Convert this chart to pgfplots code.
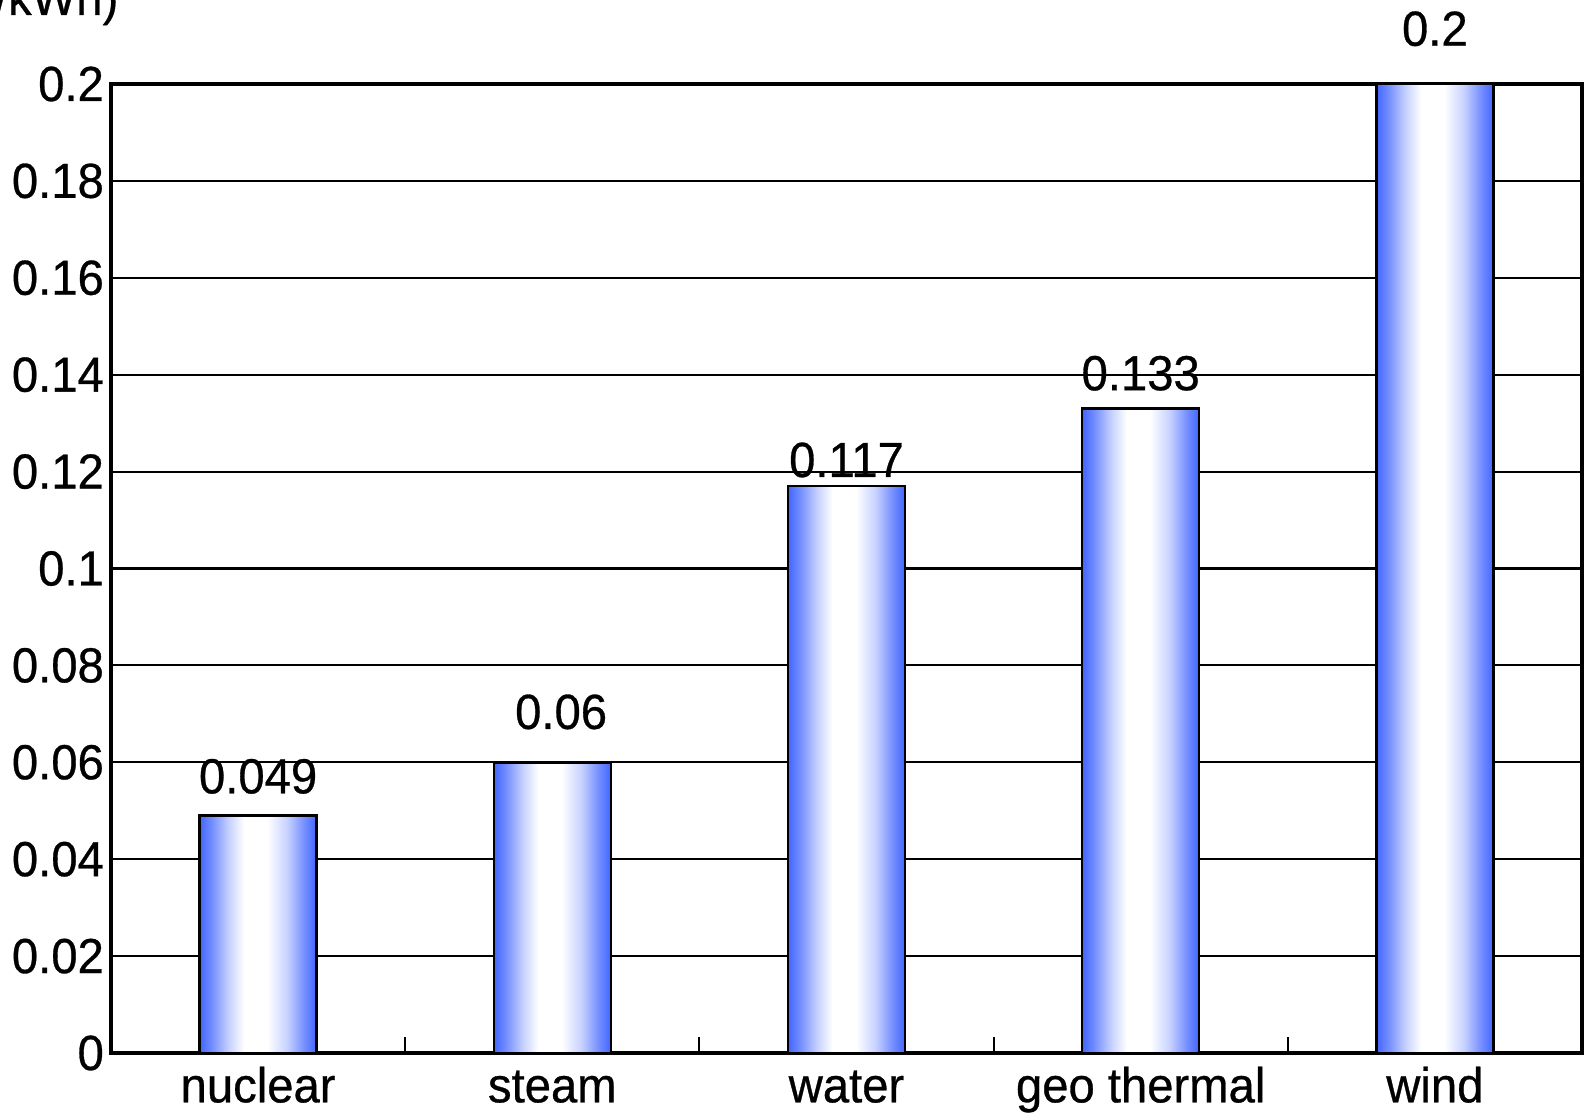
\documentclass[border=0pt]{standalone}
\usepackage{pgfplots}
\pgfplotsset{compat=1.18}
\usepackage{fontspec}
\setmainfont{Liberation Sans}[FakeStretch=0.96, FakeBold=0.6]
\definecolor{barblue}{RGB}{66,102,255}
\pgfdeclarehorizontalshading{barshade}{100bp}{color(0bp)=(barblue); color(25bp)=(barblue); color(30bp)=(barblue!75); color(37.5bp)=(barblue!30); color(44bp)=(white); color(54bp)=(white); color(62.5bp)=(barblue!30); color(70bp)=(barblue!75); color(75bp)=(barblue); color(100bp)=(barblue)}
\begin{document}
\begin{tikzpicture}[x=1cm,y=1cm]
\newcommand{\lbl}{\fontsize{14}{16}\selectfont}
\begin{axis}[
  at={(1.11cm,0.66cm)}, anchor=south west,
  scale only axis, width=14.71cm, height=9.69cm,
  xmin=-0.5, xmax=4.5, ymin=0, ymax=0.2,
  ytick={0,0.02,...,0.2},
  scaled y ticks=false,
  yticklabel style={/pgf/number format/fixed, /pgf/number format/precision=2, xshift=1.5pt},
  xticklabel style={text height=10.5pt, text depth=3pt},
  /pgf/number format/assume math mode=true,
  xtick={0,1,2,3,4},
  xticklabels={nuclear, steam, water, geo thermal, wind},
  extra x ticks={0.5,1.5,2.5,3.5},
  extra x tick labels={},
  extra x tick style={major tick length=0.16cm, tick style={black, line width=0.6pt}, tick align=inside},
  xtick pos=bottom, ytick pos=left,
  major tick length=0pt,
  tick label style={font=\lbl, text=black},
  ymajorgrids, grid style={black, line width=0.6pt},
  axis line style={black, line width=0.9pt},
  clip=false,
]
\pgfplotsset{barsty/.style={ybar, bar width=1.17cm, bar shift=0pt, shading=barshade, draw=black, line width=0.7pt, mark=none}}
\addplot[barsty] coordinates {(0,0.049)};
\addplot[barsty] coordinates {(1,0.06)};
\addplot[barsty] coordinates {(2,0.117)};
\addplot[barsty] coordinates {(3,0.133)};
\addplot[barsty] coordinates {(4,0.2)};
\node[anchor=base, font=\lbl] at (axis cs:0,0.0536) {0.049};
\node[anchor=base, font=\lbl] at (axis cs:1.03,0.0669) {0.06};
\node[anchor=base, font=\lbl] at (axis cs:2,0.1189) {0.117};
\node[anchor=base, font=\lbl] at (axis cs:3,0.1368) {0.133};
\node[anchor=base, font=\lbl] at (axis cs:4,0.2079) {0.2};
\end{axis}
\node[anchor=base east, font=\lbl, inner sep=0pt] at (1.19,11.04) {(\$/kWh)};
\pgfresetboundingbox
\useasboundingbox (0,0) rectangle (15.85,11.19);
\end{tikzpicture}
\end{document}
